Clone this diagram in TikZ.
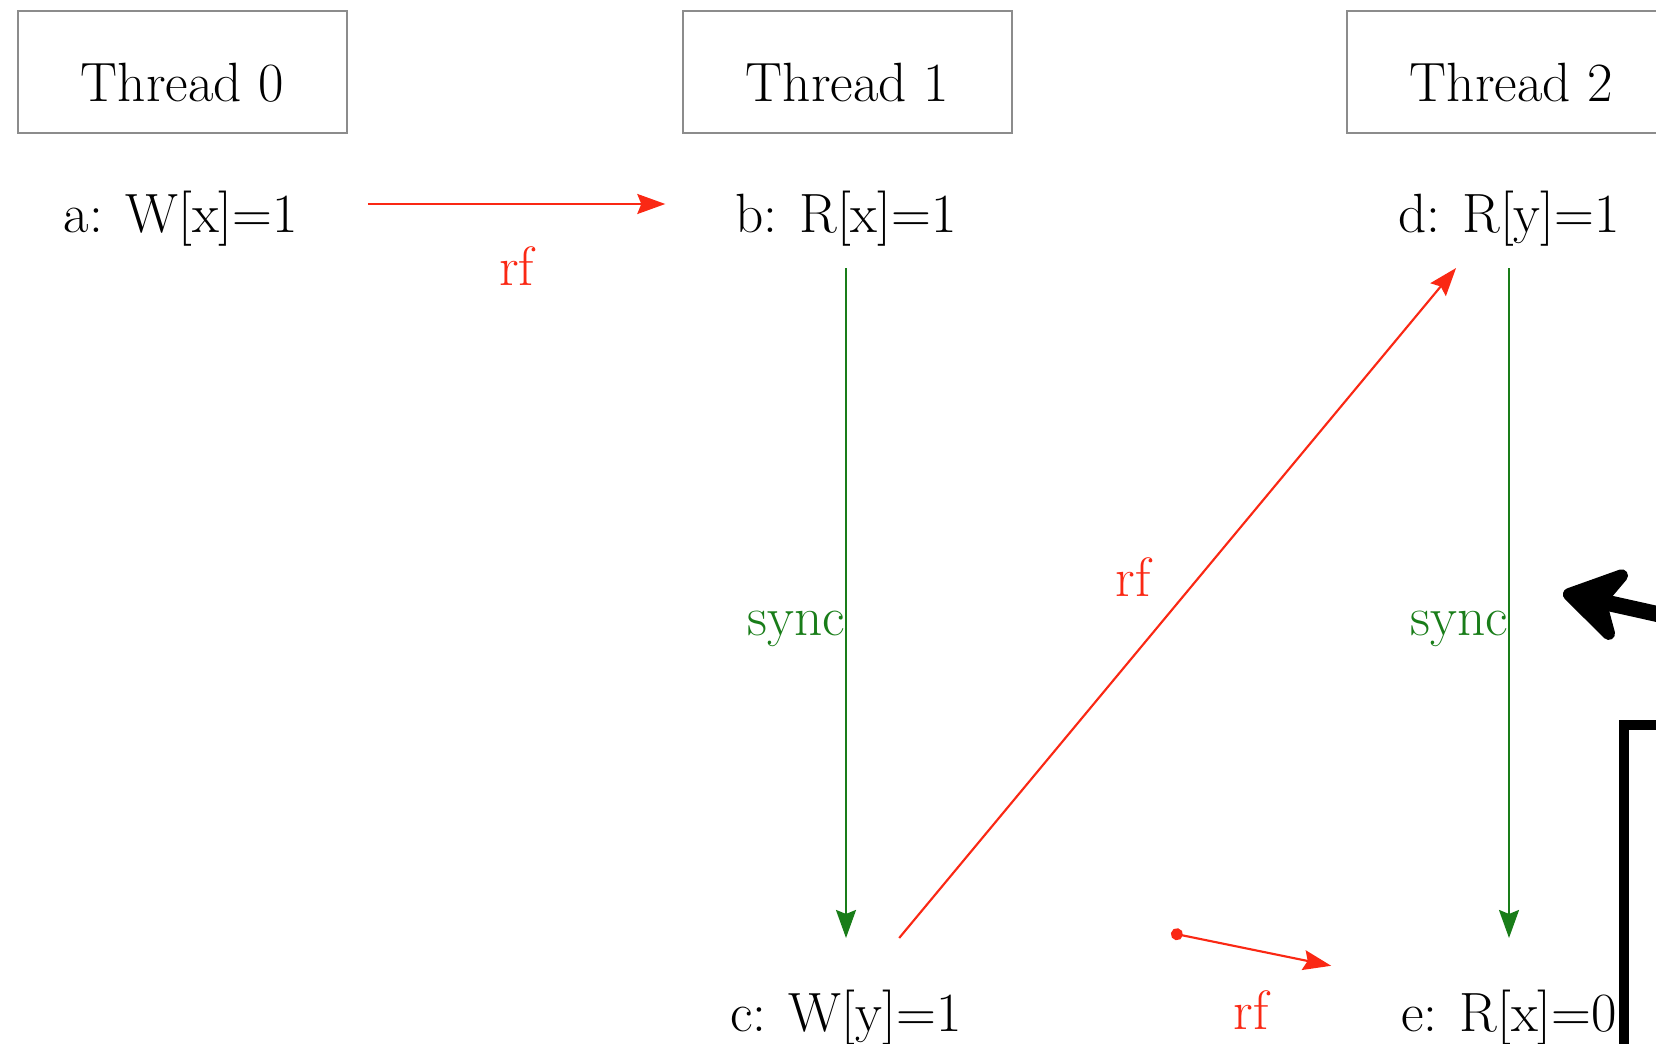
\documentclass[tikz,border=0pt]{standalone}
\usetikzlibrary{arrows.meta,shadows}

\definecolor{rfred}{RGB}{250,40,20}
\definecolor{syncgreen}{RGB}{25,125,25}

\tikzset{every picture/.style={line width=0.75pt}}
\tikzset{
  bigfont/.style={font=\fontsize{41.5}{50}\selectfont},
  rftip/.tip={Stealth[length=21pt,width=15pt,inset=3pt]},
  thread/.style={bigfont, draw=black!45, line width=1.2pt, inner sep=0pt,
    minimum width=246.75pt, text height=68.25pt, text depth=23.25pt},
  op/.style={bigfont, inner xsep=52pt, inner ysep=15pt,
    text height=54.4pt, text depth=10.9pt},
  rf/.style={color=rfred, line width=1.6pt, -rftip},
  sync/.style={color=syncgreen, line width=1.6pt, -rftip},
  rflabel/.style={bigfont, text=rfred, inner sep=0pt},
  synclabel/.style={bigfont, text=syncgreen, inner sep=0pt}
}

\begin{document}
\begin{tikzpicture}[x=0.75pt,y=0.75pt,yscale=-1,xscale=1]
\useasboundingbox (0,0) rectangle (1656,1044);
\clip (0,0) rectangle (1656,1044);

%Shape: Rectangle (cut off at the right)
\draw [line width=7pt, fill=white, drop shadow={shadow xshift=-3pt, shadow yshift=3pt, opacity=0.25}] (1624,725) rectangle (1800,1200);

% Thread headers
\node [thread, anchor=base] (thread0) at (182.5,102) {Thread 0};
\node [thread, anchor=base] (thread1) at (847.5,102) {Thread 1};
\node [thread, anchor=base] (thread2) at (1511.5,102) {Thread 2};

% Events
\node [op, anchor=base] (a) at (181,233) {a: W[x]=1};
\node [op, anchor=base] (b) at (846,233) {b: R[x]=1};
\node [op, anchor=base] (d) at (1509,233) {d: R[y]=1};
\node [op, anchor=base] (c) at (846,1031) {c: W[y]=1};
\node [op, anchor=base] (e) at (1509,1031) {e: R[x]=0};

%Straight Lines
\draw [rf] (a) -- node [rflabel, below=31pt] {rf} (b);
%Straight Lines
\draw [sync] (b) -- node [synclabel, midway, anchor=base east, yshift=-24pt] {sync} (c);
%Straight Lines
\draw [rf] (c) -- node [rflabel, midway, anchor=south east, xshift=-19.5pt, yshift=3.75pt] {rf} (d);
%Straight Lines
\draw [sync] (d) -- node [synclabel, midway, anchor=base east, yshift=-24pt] {sync} (e);
%Straight Lines
\coordinate (rfsrc) at (1171,933);
\draw [rf, {Circle[length=9pt]}-rftip] (rfsrc) -- node [rflabel, below=30pt] {rf} (e);

%Callout arrow
\coordinate (calloutfrom) at (1720,628);
\coordinate (calloutto) at (1563,593);
\draw [line width=12pt, line cap=round, -{Stealth[round, length=56pt, width=70pt, inset=18pt]}] (calloutfrom) -- (calloutto);
\end{tikzpicture}
\end{document}
